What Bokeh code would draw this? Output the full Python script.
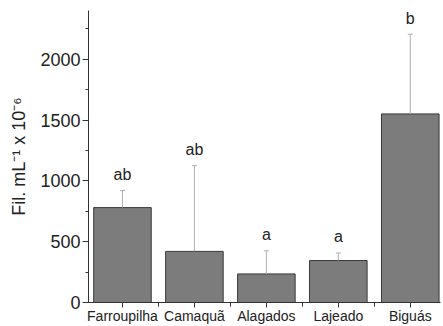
from bokeh.plotting import figure
from bokeh.models import FixedTicker, SingleIntervalTicker, Range1d, ColumnDataSource
from bokeh.core.properties import value
from bokeh.embed import file_html
from bokeh.resources import INLINE

categories = ["Farroupilha", "Camaquã", "Alagados", "Lajeado", "Biguás"]
means = [780, 420, 235, 345, 1550]
err_upper = [920, 1125, 425, 407, 2205]
letters = ["ab", "ab", "a", "a", "b"]

xs = list(range(1, len(categories) + 1))
FONT = "Liberation Sans"

src = ColumnDataSource(dict(x=xs, top=means, err=err_upper, lab=letters,
                            cl=[x - 0.035 for x in xs], cr=[x + 0.035 for x in xs]))

p = figure(width=443, height=326, output_backend="svg", toolbar_location=None,
           x_range=Range1d(0.528, 5.42), y_range=Range1d(0, 2400),
           min_border_left=88, min_border_right=3, min_border_top=10, min_border_bottom=22)
p.outline_line_color = None
p.xgrid.visible = False
p.ygrid.visible = False

p.vbar(x="x", top="top", bottom=0, width=0.8, source=src,
       fill_color="#7c7c7c", line_color="#3a3a3a", line_width=1)
p.segment(x0="x", y0="top", x1="x", y1="err", source=src, line_color="#b0b0b0", line_width=1)
p.segment(x0="cl", y0="err", x1="cr", y1="err", source=src, line_color="#b0b0b0", line_width=1)
p.text(x="x", y="err", text="lab", source=src, text_align="center", text_baseline="middle",
       y_offset=-16, text_font=value(FONT), text_font_size="16px", text_color="#222222")

xa = p.xaxis[0]
xa.ticker = FixedTicker(ticks=xs, minor_ticks=[1.5, 2.5, 3.5, 4.5])
xa.major_label_overrides = {x: c for x, c in zip(xs, categories)}
xa.major_label_text_font = FONT
xa.major_label_text_font_size = "14px"
xa.major_label_text_color = "#222222"
xa.major_label_standoff = 0
xa.major_tick_out = 5
xa.major_tick_in = 0
xa.minor_tick_out = 4
xa.minor_tick_in = 0
xa.axis_line_color = "#333333"
xa.major_tick_line_color = "#333333"
xa.minor_tick_line_color = "#333333"

ya = p.yaxis[0]
ya.ticker = SingleIntervalTicker(interval=500, num_minor_ticks=2)
ya.axis_label = "Fil. mL⁻¹ x 10⁻⁶"
ya.axis_label_text_font = FONT
ya.axis_label_text_font_size = "18px"
ya.axis_label_text_font_style = "normal"
ya.axis_label_text_color = "#222222"
ya.axis_label_standoff = 8
ya.major_label_text_font = FONT
ya.major_label_text_font_size = "18px"
ya.major_label_text_color = "#222222"
ya.major_label_standoff = 2
ya.major_tick_out = 6
ya.major_tick_in = 0
ya.minor_tick_out = 3
ya.minor_tick_in = 0
ya.axis_line_color = "#333333"
ya.major_tick_line_color = "#333333"
ya.minor_tick_line_color = "#333333"

open("out.html", "w").write(file_html(p, INLINE))
